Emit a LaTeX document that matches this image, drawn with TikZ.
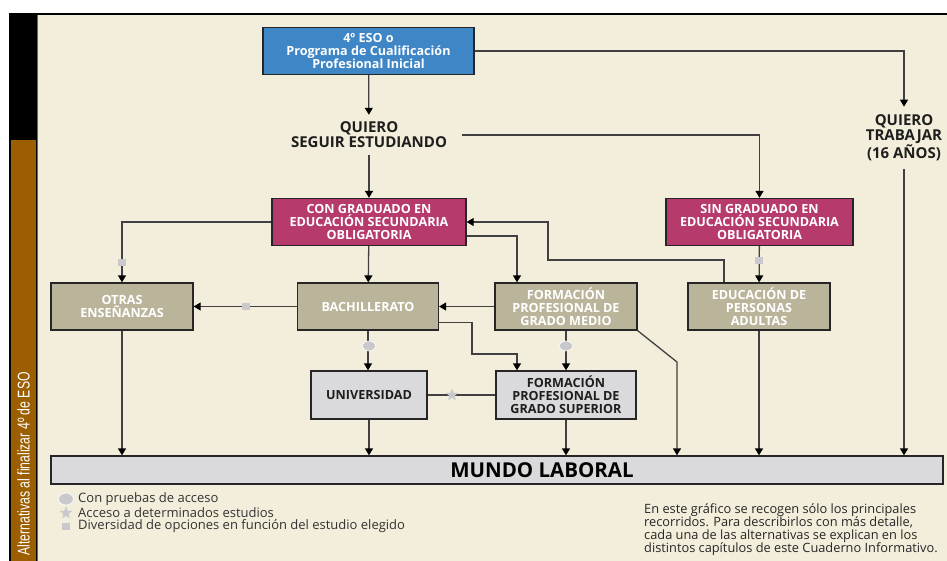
\documentclass[tikz,border=0pt]{standalone}
\usepackage{fontspec}
\setmainfont{Open Sans}
\newfontfamily\barfont{Liberation Sans}
\usetikzlibrary{arrows.meta,shapes.geometric}
\definecolor{beige}{HTML}{F3EEDB}
\definecolor{boxblue}{HTML}{3E86C6}
\definecolor{boxmag}{HTML}{B73A6C}
\definecolor{khaki}{HTML}{BAB59A}
\definecolor{lgray}{HTML}{DADADC}
\definecolor{brownbar}{HTML}{9B5E00}
\definecolor{linec}{HTML}{404040}
\definecolor{markc}{HTML}{C9C9CD}
\definecolor{txtc}{HTML}{1E1E1E}
\tikzset{
  box/.style={draw=black!85, line width=1.3pt, minimum height=47pt, align=center,
     font=\fontsize{12.6}{13}\selectfont\bfseries, inner sep=1pt},
  bluebox/.style={box, fill=boxblue, text=white},
  magbox/.style={box, fill=boxmag, text=white},
  khbox/.style={box, fill=khaki, text=white},
  graybox/.style={box, fill=lgray, text=txtc},
  label/.style={align=center, font=\fontsize{15}{15}\selectfont\bfseries, text=txtc},
  conn/.style={draw=linec, line width=1.3pt, -{Triangle[width=8pt,length=7pt,color=black]}},
  plain/.style={draw=linec, line width=1.3pt},
  mcircle/.style={ellipse, fill=markc, draw=white, line width=0.6pt, minimum width=13pt, minimum height=10pt, inner sep=0pt},
  msquare/.style={rectangle, fill=markc, minimum width=8pt, minimum height=7pt, inner sep=0pt},
  mstar/.style={star, star points=5, star point ratio=2.3, fill=markc, minimum size=13pt, inner sep=0pt},
  legtext/.style={anchor=west, font=\fontsize{13}{13}\selectfont, text=black!80, inner sep=0pt}
}
\begin{document}
\begin{tikzpicture}[x=1pt,y=-1pt]
\useasboundingbox (0,0) rectangle (947,561);
\begin{scope}
\clip (0,0) rectangle (947,561);
% background and frame
\fill[white] (0,0) rectangle (947,561);
\fill[beige] (37,15) rectangle (947,561);
\fill[black] (9,13) rectangle (947,15);
\fill[black] (9,13) rectangle (37,561);
\fill[brownbar] (11,140) rectangle (36,561);
\draw[black!60, line width=1.2pt] (37.5,15) -- (37.5,561);
\end{scope}
\node[rotate=90, anchor=east, text=white, inner sep=0pt, font=\barfont\fontsize{17}{17}\selectfont] (bartext) at (23.5,372)
  {\scalebox{0.72}[1]{Alternativas al finalizar 4º de ESO}};

% nodes
\node[bluebox, minimum width=211pt] (top) at (368.5,51) {4º ESO o\\Programa de Cualificación\\Profesional Inicial};
\node[label, inner xsep=15pt, inner ysep=7pt] (seguir) at (369,135) {QUIERO\\SEGUIR ESTUDIANDO};
\node[label, inner ysep=8pt] (trabajar) at (904,138) {QUIERO\\TRABAJAR\\(16 AÑOS)};
\node[magbox, minimum width=194pt] (con) at (369,222) {CON GRADUADO EN\\EDUCACIÓN SECUNDARIA\\OBLIGATORIA};
\node[magbox, minimum width=187pt] (sin) at (759.5,222) {SIN GRADUADO EN\\EDUCACIÓN SECUNDARIA\\OBLIGATORIA};
\node[khbox, minimum width=142pt] (otras) at (122,306.5) {OTRAS\\ENSEÑANZAS};
\node[khbox, minimum width=141pt] (bach) at (368,306.5) {BACHILLERATO};
\node[khbox, minimum width=142pt] (fpgm) at (566,306.5) {FORMACIÓN\\PROFESIONAL DE\\GRADO MEDIO};
\node[khbox, minimum width=142pt] (epa) at (759,306.5) {EDUCACIÓN DE\\PERSONAS\\ADULTAS};
\node[graybox, minimum width=116pt, minimum height=48pt] (univ) at (369,395) {UNIVERSIDAD};
\node[graybox, minimum width=140pt, minimum height=48pt] (fpgs) at (566,395) {FORMACIÓN\\PROFESIONAL DE\\GRADO SUPERIOR};
\node[box, fill=lgray, minimum width=892pt, minimum height=28pt] (mundo) at (497,470) {};
\node[font=\fontsize{20.5}{20.5}\selectfont\bfseries, text=black, inner sep=0pt] (mundotext) at (542,470) {MUNDO LABORAL};

% connectors
\draw[conn] (top) -- (seguir);
\draw[conn] (top.east) -| (trabajar.north);
\draw[conn] (trabajar.south) -- (trabajar.south |- mundo.north);
\draw[conn] (seguir) -- (con);
\draw[conn] (seguir.east) -| (sin.north);
\draw[conn] (con.west) -| (otras.north);
\draw[conn] (con) -- (bach);
\draw[conn] ([yshift=-14pt]con.east) -| ([xshift=-49pt]fpgm.north);
\draw[conn] (fpgm.west) -- (bach.east);
\draw[conn] (bach.west) -- (otras.east);
\coordinate (epaup) at (548,260);
\draw[conn] ([xshift=-35pt]epa.north) |- (epaup) |- (con.east);
\draw[conn] (sin) -- (epa);
\coordinate (bachbend) at (472,354);
\draw[conn] ([yshift=-16pt]bach.east) -| (bachbend) -| ([xshift=-49pt]fpgs.north);
\draw[conn] (bach) -- (bach.south |- univ.north);
\draw[conn] (fpgm) -- (fpgs);
\coordinate (fpgmbend) at (677,362);
\draw[conn] (fpgm.south east) -- (fpgmbend) -- (fpgmbend |- mundo.north);
\draw[conn] (epa.south) -- (epa.south |- mundo.north);
\draw[conn] (otras.south) -- (otras.south |- mundo.north);
\draw[conn] (univ.south) -- (univ.south |- mundo.north);
\draw[conn] (fpgs.south) -- (fpgs.south |- mundo.north);
\draw[plain] (univ.east) -- (fpgs.west);

% markers
\node[msquare] (m1) at (122,263) {};
\node[msquare] (m2) at (246,306.5) {};
\node[msquare] (m3) at (759,261) {};
\node[mcircle] (m4) at (369,346) {};
\node[mcircle] (m5) at (566,346) {};
\node[mstar] (m6) at (452,395) {};

% legend
\node[mcircle, minimum width=15pt, minimum height=12pt] (l1) at (66,499) {};
\node[mstar] (l2) at (66,513) {};
\node[msquare] (l3) at (66,526) {};
\node[legtext] (lt1) at (78,499) {Con pruebas de acceso};
\node[legtext] (lt2) at (78,513) {Acceso a determinados estudios};
\node[legtext] (lt3) at (78,526) {Diversidad de opciones en función del estudio elegido};

% note
\node[anchor=north west, align=left, inner sep=0pt, font=\fontsize{12.8}{13.2}\selectfont, text=black!85] (note) at (644,503)
 {En este gráfico se recogen sólo los principales\\recorridos. Para describirlos con más detalle,\\cada una de las alternativas se explican en los\\distintos capítulos de este Cuaderno Informativo.};
\end{tikzpicture}
\end{document}
